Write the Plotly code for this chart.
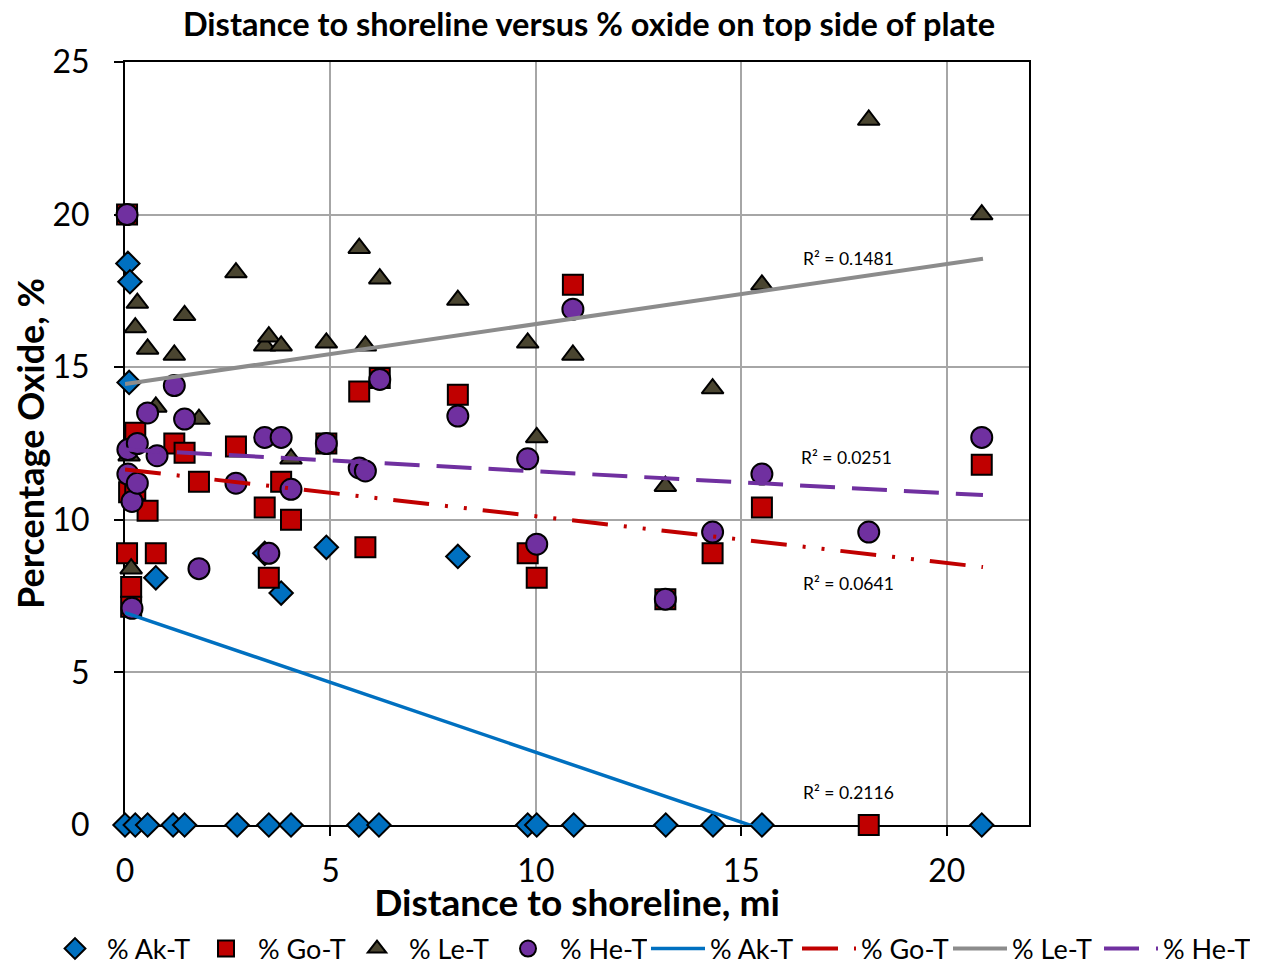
import plotly.graph_objects as go

# distance to shoreline (mi) and % oxide
ak_x = [0.07, 0.12, 0.1, 0.0, 0.25, 0.55, 0.75, 1.17, 1.45, 2.73, 3.4, 3.5, 3.8, 4.04,
        4.9, 5.69, 6.18, 8.1, 9.8, 10.02, 10.92, 13.16, 14.31, 15.5, 20.85]
ak_y = [18.4, 17.8, 14.5, 0.0, 0.0, 0.0, 8.1, 0.0, 0.0, 0.0, 8.9, 0.0, 7.6, 0.0,
        9.1, 0.0, 0.0, 8.8, 0.0, 0.0, 0.0, 0.0, 0.0, 0.0, 0.0]

go_x = [0.05, 0.05, 0.15, 0.15, 0.1, 0.25, 0.25, 0.55, 0.75, 1.2, 1.45, 1.8, 2.7, 3.4,
        3.5, 3.8, 4.04, 4.9, 5.7, 5.85, 6.2, 8.1, 9.8, 10.02, 10.9, 13.15, 14.3, 15.5,
        18.1, 20.85]
go_y = [20.0, 8.9, 7.8, 7.15, 10.9, 11.0, 12.85, 10.3, 8.9, 12.5, 12.2, 11.25, 12.4, 10.4,
        8.1, 11.25, 10.0, 12.5, 14.2, 9.1, 14.65, 14.1, 8.9, 8.1, 17.7, 7.4, 8.9, 10.4,
        0.0, 11.8]

le_x = [0.1, 0.15, 0.25, 0.3, 0.55, 0.75, 1.2, 1.45, 1.8, 2.7, 3.4, 3.5, 3.8, 4.04,
        4.9, 5.7, 5.85, 6.2, 8.1, 9.8, 10.02, 10.9, 13.15, 14.3, 15.5, 18.1, 20.85]
le_y = [12.1, 8.4, 16.3, 17.1, 15.6, 13.7, 15.4, 16.7, 13.3, 18.1, 15.7, 16.0, 15.7, 12.0,
        15.8, 18.9, 15.7, 17.9, 17.2, 15.8, 12.7, 15.4, 11.1, 14.3, 17.7, 23.1, 20.0]

he_x = [0.05, 0.07, 0.07, 0.17, 0.17, 0.3, 0.3, 0.55, 0.78, 1.2, 1.45, 1.8, 2.7, 3.4,
        3.5, 3.8, 4.04, 4.9, 5.7, 5.85, 6.2, 8.1, 9.8, 10.02, 10.9, 13.15, 14.3, 15.5,
        18.1, 20.85]
he_y = [20.0, 11.5, 12.3, 10.6, 7.1, 11.2, 12.5, 13.5, 12.1, 14.4, 13.3, 8.4, 11.2, 12.7,
        8.9, 12.7, 11.0, 12.5, 11.7, 11.6, 14.6, 13.4, 12.0, 9.2, 16.9, 7.4, 9.6, 11.5,
        9.6, 12.7]

# linear trendline end points as drawn in the reference
trend_x = [0.0, 20.88]
ak_trend = [6.96, -2.6]
go_trend = [11.65, 8.45]
le_trend = [14.45, 18.55]
he_trend = [12.3, 10.81]

r2_labels = ["R² = 0.1481", "R² = 0.0251", "R² = 0.0641", "R² = 0.2116"]
r2_x = [17.6, 17.55, 17.6, 17.6]
r2_y = [18.55, 12.03, 7.9, 1.05]

FONT = "Lato"
BLUE = "#0070C0"
RED = "#C00000"
OLIVE = "#4A4530"
PURPLE = "#7030A0"
GRAY = "#8C8C8C"

fig = go.Figure()

markers = [
    ("% Ak-T", ak_x, ak_y, "diamond", 18, BLUE),
    ("% Go-T", go_x, go_y, "square", 20, RED),
    ("% Le-T", le_x, le_y, "triangle-up", 19, OLIVE),
    ("% He-T", he_x, he_y, "circle", 21, PURPLE),
]
for name, xs, ys, sym, size, color in markers:
    fig.add_trace(go.Scatter(
        x=xs, y=ys, mode="markers", name=name, cliponaxis=False,
        legend="legend",
        marker=dict(symbol=sym, size=size, color=color,
                    line=dict(color="black", width=2)),
    ))

trends = [
    ("% Ak-T", ak_trend, BLUE, "solid", 3.5),
    ("% Go-T", go_trend, RED, "36px,16px,3px,16px,3px,16px", 4),
    ("% Le-T", le_trend, GRAY, "solid", 4),
    ("% He-T", he_trend, PURPLE, "35px,17px", 4),
]
for name, ys, color, dash, width in trends:
    fig.add_trace(go.Scatter(
        x=trend_x, y=ys, mode="lines", name=name, legend="legend2",
        line=dict(color=color, width=width, dash=dash),
    ))

for text, x, y in zip(r2_labels, r2_x, r2_y):
    fig.add_annotation(x=x, y=y, text=text, showarrow=False,
                       font=dict(family=FONT, size=17.5, color="black"))

# the page body adds ~7px offset, so positions below are shifted back by it
legend_style = dict(orientation="h", xref="container", yref="container",
                    xanchor="left", y=1 - 941 / 966, yanchor="middle",
                    font=dict(size=27), itemwidth=54, entrywidth=82,
                    traceorder="normal", bgcolor="rgba(0,0,0,0)")

fig.update_layout(
    width=1262,
    height=966,
    margin=dict(l=117, r=241, t=54, b=149, autoexpand=False),
    plot_bgcolor="white",
    paper_bgcolor="white",
    font=dict(family=FONT, color="black"),
    title=dict(text="<b>Distance to shoreline versus % oxide on top side of plate</b>",
               x=581 / 1262, xanchor="center", y=1 - 17 / 966, yanchor="middle",
               font=dict(size=32.5, color="black")),
    legend=dict(x=35 / 1262, **legend_style),
    legend2=dict(x=638 / 1262, **legend_style),
)

axis_style = dict(
    showgrid=True, gridcolor="#A6A6A6", gridwidth=1.5,
    showline=True, linecolor="black", linewidth=2, mirror=True,
    ticks="outside", ticklen=9, tickwidth=2, tickcolor="black",
    tickfont=dict(size=32), zeroline=False, layer="below traces",
)
fig.update_xaxes(range=[0, 22], tick0=0, dtick=5, ticklabelstandoff=8,
                 title=dict(text="<b>Distance to shoreline, mi</b>",
                            font=dict(size=37), standoff=24),
                 **axis_style)
fig.update_yaxes(range=[0, 25], tick0=0, dtick=5, ticklabelstandoff=18,
                 title=dict(text="<b>Percentage Oxide, %</b>",
                            font=dict(size=36), standoff=9),
                 **axis_style)

fig.write_html("out.html")
